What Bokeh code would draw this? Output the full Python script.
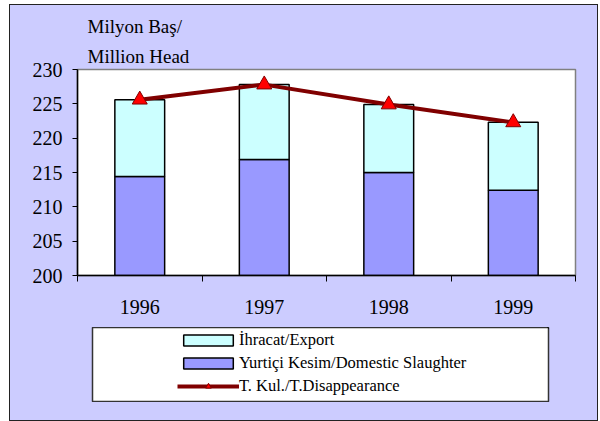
from bokeh.plotting import figure
from bokeh.layouts import column
from bokeh.models import (ColumnDataSource, Legend, LegendItem,
                          FixedTicker, Range1d)
from bokeh.embed import file_html
from bokeh.resources import INLINE

# ---- data ----
years = ["1996", "1997", "1998", "1999"]
domestic = [214.4, 216.9, 215.0, 212.4]      # Yurtiçi Kesim/Domestic Slaughter
export = [11.2, 10.9, 9.9, 9.9]              # İhracat/Export
disappearance = [225.6, 227.8, 224.9, 222.3]  # T. Kul./T.Disappearance
y_ticks = [200, 205, 210, 215, 220, 225, 230]
series_names = ["İhracat/Export", "Yurtiçi Kesim/Domestic Slaughter",
                "T. Kul./T.Disappearance"]

FONT = "Times New Roman, Liberation Serif, serif"
LAV = "#CCCCFF"
C_DOM, C_EXP, C_LINE, C_MARK = "#9999FF", "#CCFFFF", "#800000", "#FF0000"

xs = [i + 0.5 for i in range(len(years))]
src = ColumnDataSource(dict(
    x=xs,
    dom=domestic,
    exp_top=[d + e for d, e in zip(domestic, export)],
    total=disappearance,
))

BL, BR = 67, 22  # side borders shared by both stacked figures

p = figure(width=587, height=322, output_backend="svg", toolbar_location=None,
           x_range=Range1d(0, len(years)), y_range=Range1d(200, 230),
           min_border_left=BL, min_border_top=64, min_border_right=BR,
           min_border_bottom=52,
           background_fill_color="white", border_fill_color=LAV,
           outline_line_color="#808080", outline_line_width=1.5)

p.xgrid.visible = False
p.ygrid.visible = False


def draw_series(fig):
    rd = fig.vbar(x="x", top="dom", bottom=0, width=0.4, source=src,
                  fill_color=C_DOM, line_color="black", line_width=1.5)
    re = fig.vbar(x="x", top="exp_top", bottom="dom", width=0.4, source=src,
                  fill_color=C_EXP, line_color="black", line_width=1.5)
    rl = fig.line(x="x", y="total", source=src, line_color=C_LINE, line_width=4)
    rm = fig.scatter(x="x", y="total", source=src, marker="triangle", size=15,
                     fill_color=C_MARK, line_color=C_LINE, line_width=1)
    return rd, re, rl, rm


draw_series(p)

# title: two-line unit label above the y axis
p.title.text = "Milyon Baş/\nMillion Head"
p.title.align = "left"
p.title.offset = 10
p.title.text_font = FONT
p.title.text_font_size = "19px"
p.title.text_font_style = "normal"
p.title.text_color = "black"
p.title.text_line_height = 1.45
p.title.standoff = 4

# x axis: labels at centres, ticks at category boundaries
xax = p.xaxis[0]
xax.ticker = FixedTicker(ticks=xs, minor_ticks=list(range(len(years) + 1)))
xax.major_label_overrides = {x: y for x, y in zip(xs, years)}
xax.major_tick_in = 0
xax.major_tick_out = 0
xax.minor_tick_in = 0
xax.minor_tick_out = 6
xax.minor_tick_line_color = "black"
xax.axis_line_color = "black"
xax.axis_line_width = 1.5
xax.major_label_text_font = FONT
xax.major_label_text_font_size = "20px"
xax.major_label_text_color = "black"
xax.major_label_standoff = 18

yax = p.yaxis[0]
yax.ticker = FixedTicker(ticks=y_ticks)
yax.major_tick_in = 0
yax.major_tick_out = 5
yax.minor_tick_out = 0
yax.minor_tick_in = 0
yax.major_tick_line_color = "black"
yax.axis_line_color = "black"
yax.axis_line_width = 1.5
yax.major_label_text_font = FONT
yax.major_label_text_font_size = "20px"
yax.major_label_text_color = "black"
yax.major_label_standoff = 10

# ---- legend panel (white box under the chart) ----
# same series drawn out of view; only their legend swatches show
lf = figure(width=456 + BL + BR, height=75, output_backend="svg",
            toolbar_location=None,
            x_range=Range1d(-20, -19), y_range=Range1d(-20, -19),
            x_axis_type=None, y_axis_type=None,
            min_border_left=BL, min_border_right=BR,
            min_border_top=0, min_border_bottom=0,
            background_fill_color="white", border_fill_color=LAV,
            outline_line_color="#333333", outline_line_width=1.5,
            margin=(0, 0, 18, 15))
lf.xgrid.visible = False
lf.ygrid.visible = False
g_dom, g_exp, g_line, g_mark = draw_series(lf)

legend = Legend(items=[
    LegendItem(label=series_names[0], renderers=[g_exp]),
    LegendItem(label=series_names[1], renderers=[g_dom]),
    LegendItem(label=series_names[2], renderers=[g_line, g_mark]),
], location=(85, 6), padding=0, spacing=3,
    glyph_width=62, glyph_height=14, label_height=20, label_standoff=0,
    label_text_font=FONT, label_text_font_size="16.5px", label_text_color="black",
    border_line_alpha=0, background_fill_alpha=0)
lf.add_layout(legend)

layout = column(p, lf, spacing=0,
                styles={"border": "1px solid #222", "background-color": LAV,
                        "margin-left": "9px", "margin-top": "4px"})

open("out.html", "w").write(file_html(layout, INLINE))
